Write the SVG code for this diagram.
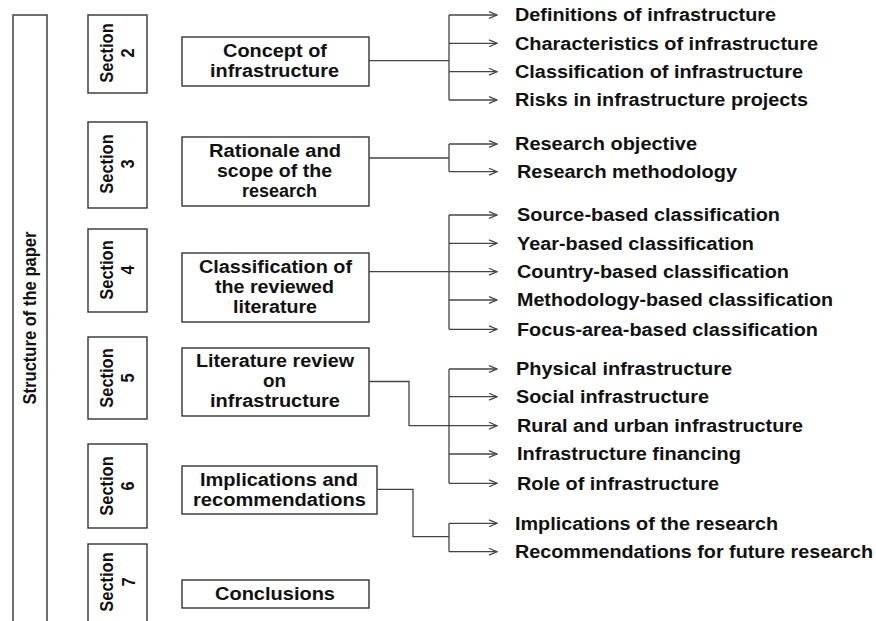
<svg xmlns="http://www.w3.org/2000/svg" width="876" height="621" viewBox="0 0 876 621">
  <style>
    .box { fill: #fff; stroke: #333; stroke-width: 1.4; }
    .t { font-family: "Liberation Sans", Arial, sans-serif; font-weight: bold; font-size: 17.5px; fill: #111; }
    .m { text-anchor: middle; }
    .v { font-family: "Liberation Sans", Arial, sans-serif; font-weight: bold; font-size: 16.5px; fill: #111; text-anchor: middle; }
    .conn { fill: none; stroke: #444; stroke-width: 1.3; }
    .arr { fill: none; stroke: #444; stroke-width: 1.3; marker-end: url(#chev); }
  </style>
  <defs>
    <marker id="chev" markerUnits="userSpaceOnUse" viewBox="0 0 10 8" markerWidth="10" markerHeight="8" refX="9" refY="4" orient="auto">
      <path d="M1,0.6 L9,4 L1,7.4" fill="none" stroke="#444" stroke-width="1.2"/>
    </marker>
  </defs>
  <rect width="876" height="621" fill="#fff"/>

  <!-- outer spine -->
  <g id="structure">
    <rect class="box" x="13" y="15" width="34" height="620"/>
    <text class="v" font-size="17" transform="translate(36,318) rotate(-90) scale(1,1.12)" textLength="173" lengthAdjust="spacingAndGlyphs">Structure of the paper</text>
  </g>

  <!-- section tabs -->
  <g id="section2">
    <rect class="box" x="88" y="15" width="59" height="78"/>
    <text class="v" transform="translate(112.5,53) rotate(-90) scale(1,1.12)">Section</text>
    <text class="v" transform="translate(134,53) rotate(-90) scale(1,1.12)">2</text>
  </g>
  <g id="section3">
    <rect class="box" x="88" y="122" width="59" height="86"/>
    <text class="v" transform="translate(112.5,164) rotate(-90) scale(1,1.12)">Section</text>
    <text class="v" transform="translate(134,164) rotate(-90) scale(1,1.12)">3</text>
  </g>
  <g id="section4">
    <rect class="box" x="88" y="229" width="59" height="83"/>
    <text class="v" transform="translate(112.5,270) rotate(-90) scale(1,1.12)">Section</text>
    <text class="v" transform="translate(134,270) rotate(-90) scale(1,1.12)">4</text>
  </g>
  <g id="section5">
    <rect class="box" x="88" y="337" width="59" height="82"/>
    <text class="v" transform="translate(112.5,378) rotate(-90) scale(1,1.12)">Section</text>
    <text class="v" transform="translate(134,378) rotate(-90) scale(1,1.12)">5</text>
  </g>
  <g id="section6">
    <rect class="box" x="88" y="444" width="59" height="84"/>
    <text class="v" transform="translate(112.5,486) rotate(-90) scale(1,1.12)">Section</text>
    <text class="v" transform="translate(134,486) rotate(-90) scale(1,1.12)">6</text>
  </g>
  <g id="section7">
    <rect class="box" x="88" y="544" width="59" height="90"/>
    <text class="v" transform="translate(112.5,582) rotate(-90) scale(1,1.12)">Section</text>
    <text class="v" transform="translate(134.5,582) rotate(-90) scale(1,1.12)">7</text>
  </g>

  <!-- section topics -->
  <g id="concept">
    <rect class="box" x="182" y="37" width="187" height="49"/>
    <text class="t m" x="275" y="57" textLength="104" lengthAdjust="spacingAndGlyphs">Concept of</text>
    <text class="t m" x="274.5" y="77" textLength="129" lengthAdjust="spacingAndGlyphs">infrastructure</text>
  </g>
  <g id="rationale">
    <rect class="box" x="182" y="137" width="187" height="69"/>
    <text class="t m" x="275" y="157" textLength="132" lengthAdjust="spacingAndGlyphs">Rationale and</text>
    <text class="t m" x="274.5" y="177" textLength="115" lengthAdjust="spacingAndGlyphs">scope of the</text>
    <text class="t m" x="279.5" y="197" textLength="75" lengthAdjust="spacingAndGlyphs">research</text>
  </g>
  <g id="classification">
    <rect class="box" x="182" y="253" width="187" height="69"/>
    <text class="t m" x="275.5" y="273" textLength="153" lengthAdjust="spacingAndGlyphs">Classification of</text>
    <text class="t m" x="274.5" y="293" textLength="119" lengthAdjust="spacingAndGlyphs">the reviewed</text>
    <text class="t m" x="275" y="313" textLength="84" lengthAdjust="spacingAndGlyphs">literature</text>
  </g>
  <g id="review">
    <rect class="box" x="182" y="348" width="187" height="68"/>
    <text class="t m" x="275" y="367" textLength="158" lengthAdjust="spacingAndGlyphs">Literature review</text>
    <text class="t m" x="274.5" y="387" textLength="23" lengthAdjust="spacingAndGlyphs">on</text>
    <text class="t m" x="275" y="407" textLength="130" lengthAdjust="spacingAndGlyphs">infrastructure</text>
  </g>
  <g id="implications">
    <rect class="box" x="182" y="466" width="195" height="48"/>
    <text class="t m" x="279" y="486" textLength="158" lengthAdjust="spacingAndGlyphs">Implications and</text>
    <text class="t m" x="279.5" y="506" textLength="173" lengthAdjust="spacingAndGlyphs">recommendations</text>
  </g>
  <g id="conclusions">
    <rect class="box" x="182" y="580" width="187" height="28"/>
    <text class="t m" x="275" y="600" textLength="120" lengthAdjust="spacingAndGlyphs">Conclusions</text>
  </g>

  <!-- connectors -->
  <g id="connectors">
    <path class="conn" d="M369,60.7 H449 M449,15 V100"/>
    <line class="arr" x1="449" y1="15" x2="497" y2="15"/>
    <line class="arr" x1="449" y1="43.3" x2="497" y2="43.3"/>
    <line class="arr" x1="449" y1="71.7" x2="497" y2="71.7"/>
    <line class="arr" x1="449" y1="100" x2="497" y2="100"/>

    <path class="conn" d="M369,158 H449 M449,144 V171.7"/>
    <line class="arr" x1="449" y1="144" x2="497" y2="144"/>
    <line class="arr" x1="449" y1="171.7" x2="497" y2="171.7"/>

    <path class="conn" d="M369,271.7 H449 M449,215 V329.3"/>
    <line class="arr" x1="449" y1="215" x2="497" y2="215"/>
    <line class="arr" x1="449" y1="243.3" x2="497" y2="243.3"/>
    <line class="arr" x1="449" y1="271.7" x2="497" y2="271.7"/>
    <line class="arr" x1="449" y1="300" x2="497" y2="300"/>
    <line class="arr" x1="449" y1="329.3" x2="497" y2="329.3"/>

    <path class="conn" d="M369,381.5 H409 V425.7 H449 M449,369 V483.3"/>
    <line class="arr" x1="449" y1="369" x2="497" y2="369"/>
    <line class="arr" x1="449" y1="396.7" x2="497" y2="396.7"/>
    <line class="arr" x1="449" y1="425.7" x2="497" y2="425.7"/>
    <line class="arr" x1="449" y1="454" x2="497" y2="454"/>
    <line class="arr" x1="449" y1="483.3" x2="497" y2="483.3"/>

    <path class="conn" d="M377,489.3 H413 V536.7 H449 M449,523.3 V551.7"/>
    <line class="arr" x1="449" y1="523.3" x2="497" y2="523.3"/>
    <line class="arr" x1="449" y1="551.7" x2="497" y2="551.7"/>
  </g>

  <!-- topic items -->
  <g id="items">
    <text class="t" x="515" y="21" textLength="261" lengthAdjust="spacingAndGlyphs">Definitions of infrastructure</text>
    <text class="t" x="515" y="49.5" textLength="303" lengthAdjust="spacingAndGlyphs">Characteristics of infrastructure</text>
    <text class="t" x="515" y="78" textLength="288" lengthAdjust="spacingAndGlyphs">Classification of infrastructure</text>
    <text class="t" x="515" y="106.3" textLength="293" lengthAdjust="spacingAndGlyphs">Risks in infrastructure projects</text>

    <text class="t" x="515" y="150.3" textLength="182" lengthAdjust="spacingAndGlyphs">Research objective</text>
    <text class="t" x="517" y="178" textLength="220" lengthAdjust="spacingAndGlyphs">Research methodology</text>

    <text class="t" x="517" y="221.3" textLength="263" lengthAdjust="spacingAndGlyphs">Source-based classification</text>
    <text class="t" x="517" y="249.6" textLength="237" lengthAdjust="spacingAndGlyphs">Year-based classification</text>
    <text class="t" x="517" y="278" textLength="272" lengthAdjust="spacingAndGlyphs">Country-based classification</text>
    <text class="t" x="517" y="306.3" textLength="316" lengthAdjust="spacingAndGlyphs">Methodology-based classification</text>
    <text class="t" x="517" y="335.6" textLength="301" lengthAdjust="spacingAndGlyphs">Focus-area-based classification</text>

    <text class="t" x="516" y="375.3" textLength="216" lengthAdjust="spacingAndGlyphs">Physical infrastructure</text>
    <text class="t" x="516" y="403" textLength="193" lengthAdjust="spacingAndGlyphs">Social infrastructure</text>
    <text class="t" x="517" y="432" textLength="286" lengthAdjust="spacingAndGlyphs">Rural and urban infrastructure</text>
    <text class="t" x="517" y="460.3" textLength="224" lengthAdjust="spacingAndGlyphs">Infrastructure financing</text>
    <text class="t" x="517" y="489.6" textLength="202" lengthAdjust="spacingAndGlyphs">Role of infrastructure</text>

    <text class="t" x="515" y="529.6" textLength="263" lengthAdjust="spacingAndGlyphs">Implications of the research</text>
    <text class="t" x="515" y="558" textLength="358" lengthAdjust="spacingAndGlyphs">Recommendations for future research</text>
  </g>
</svg>
